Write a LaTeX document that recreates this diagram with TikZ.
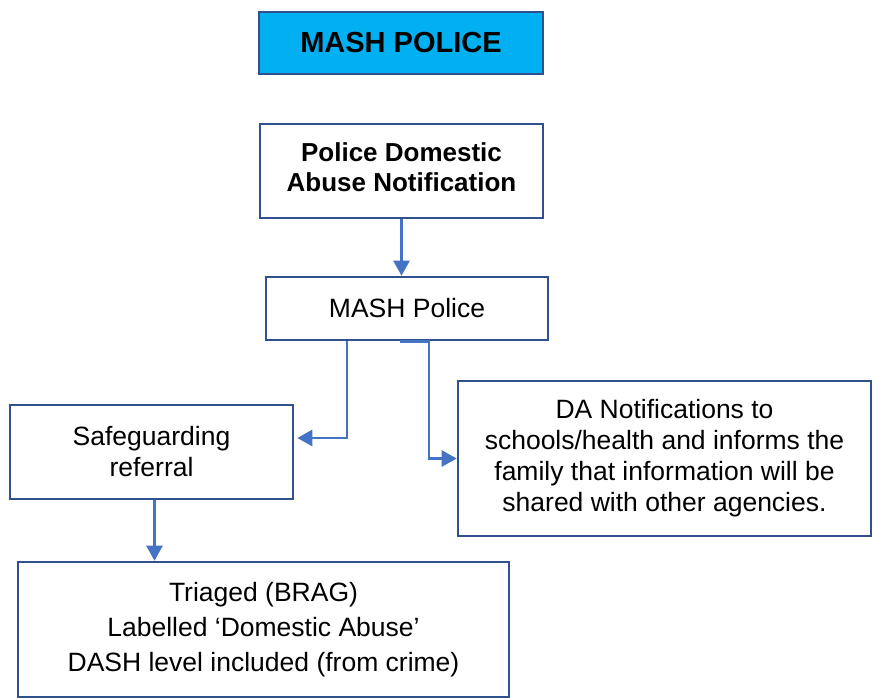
\documentclass[tikz,border=0pt]{standalone}
\usepackage{fontspec}
\setmainfont{Liberation Sans}
\usepackage{tikz}
\usetikzlibrary{positioning,arrows.meta}
\definecolor{boxline}{HTML}{2F528F}
\definecolor{arrline}{HTML}{4472C4}
\definecolor{headfill}{HTML}{00B0F0}
\begin{document}
\begin{tikzpicture}[x=1pt,y=-1pt,
    box/.style={draw=boxline, line width=2.6pt, align=center, inner sep=0pt,
        font=\fontsize{26.5}{31}\selectfont},
    arr/.style={draw=arrline, line width=2.6pt, -{Triangle[length=15pt,width=16pt]}}]
    \useasboundingbox (0,0) rectangle (873,698);
    \node[box, fill=headfill, minimum width=284pt, minimum height=62pt,
        font=\fontsize{29}{33}\selectfont\bfseries] (head) at (401,43) {MASH POLICE};
    \node[box, minimum width=283pt, minimum height=94pt, font=\fontsize{26}{30}\selectfont\bfseries]
        (pdan) at (401.5,171) {Police Domestic\\Abuse Notification\\[-22pt]\mbox{}};
    \node[box, minimum width=282pt, minimum height=63pt] (mash) at (407,308.5) {MASH Police};
    \node[box, minimum width=283pt, minimum height=94pt] (safe) at (151.5,452) {Safeguarding\\referral};
    \node[box, minimum width=413pt, minimum height=155pt] (da) at (664.5,458.5)
        {DA Notifications to\\schools/health and informs the\\family that information will be\\shared with other agencies.};
    \node[box, minimum width=491pt, minimum height=135pt] (triage) at (263.5,629.5)
        {Triaged (BRAG)\\[4pt]Labelled `Domestic Abuse'\\[4pt]DASH level included (from crime)};
    \draw[arr] (pdan.south) -- (pdan.south |- mash.north);
    \draw[arr, shorten >=3pt] ([xshift=-60pt]mash.south) |- ([yshift=14pt]safe.east);
    \draw[arr] ([xshift=-7pt]mash.south) -- ++(29,0) |- (da.west);
    \draw[arr] ([xshift=3pt]safe.south) -- ([xshift=3pt]safe.south |- triage.north);
\end{tikzpicture}
\end{document}
